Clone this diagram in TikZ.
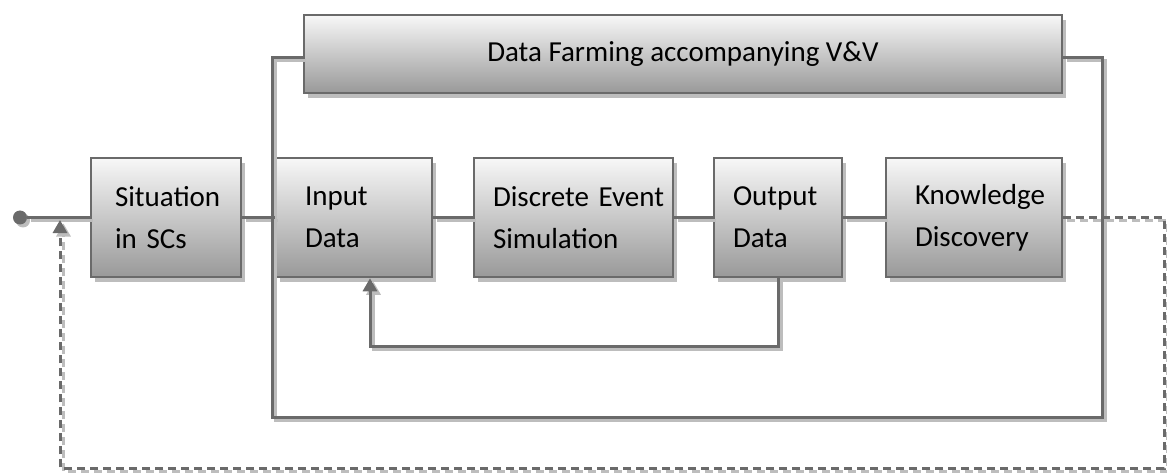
\documentclass[tikz,border=0pt]{standalone}
\usepackage{fontspec}
\setmainfont{Carlito}
\usetikzlibrary{arrows.meta,shadows}
\definecolor{linegray}{HTML}{6A6A6A}
\definecolor{shadegray}{HTML}{BDBDBD}
\begin{document}
\begin{tikzpicture}[x=1pt,y=-1pt]
        \tikzstyle{block}=[rectangle,draw=linegray,line width=2.5pt,top color=white!97!black,bottom color=black!40,drop shadow={shadow xshift=4pt,shadow yshift=-5pt,fill=shadegray,opacity=1},align=left,font=\fontsize{29}{42}\selectfont,minimum height=119pt,inner ysep=0pt]
        \tikzstyle{edge}=[line width=3pt]
        \tikzstyle{tip}=[-{Triangle[length=13pt,width=14pt]}]
        \useasboundingbox (0,0) rectangle (1167,473);
        \node [circle,fill=linegray,minimum size=14pt,inner sep=0pt,drop shadow={shadow xshift=3pt,shadow yshift=-3pt,fill=shadegray,opacity=1}] (start) at (20,217.5) {};
        \node [block,text width=102pt,inner xsep=24pt] (sit) at (166,217.5) {Situation\\in~SCs};
        \node [block,text width=98pt,inner xsep=29pt] (inp) at (354,217.5) {Input\\Data};
        \node [block,text width=161pt,inner xsep=19pt] (des) at (573.5,217.5) {Discrete~Event\\Simulation};
        \node [block,text width=90pt,inner xsep=19pt] (out) at (778,217.5) {Output\\Data};
        \node [block,text width=118pt,inner xsep=29pt] (kno) at (974,217.5) {Knowledge\\Discovery};
        \node [block,minimum width=758pt,minimum height=78pt,align=center] (top) at (683,54) {Data Farming accompanying V\&V};
        % corners of the frame and of the loops
        \coordinate (frameTL) at (272,57.5);
        \coordinate (frameBL) at (272,417);
        \coordinate (frameBR) at (1102,417);
        \coordinate (frameTR) at (1102,57.5);
        \coordinate (fbL) at (370,346);
        \coordinate (backR) at (1164,217.5);
        \coordinate (backB) at (1164,468);
        \coordinate (backL) at (60,468);
        \coordinate (back) at (60,220);
        % first the light offset copy, then the line itself
        \foreach \off/\col in {3.5pt/shadegray,0pt/linegray} {
                \begin{scope}[transform canvas={shift={(\off,-\off)}}]
                        \path[edge,draw=\col] (start) -- (sit);
                        \path[edge,draw=\col] (sit) -- (inp);
                        \path[edge,draw=\col] (inp) -- (des);
                        \path[edge,draw=\col] (des) -- (out);
                        \path[edge,draw=\col] (out) -- (kno);
                        \path[edge,draw=\col] (top.west |- frameTL) -- (frameTL) -- (frameBL) -- (frameBR) -- (frameTR) -- (top.east |- frameTR);
                        \path[edge,draw=\col,tip] (out.south) |- (fbL) -- (inp.south -| fbL);
                        \path[edge,draw=\col,tip,dash pattern=on 8pt off 5pt] (kno.east) -- (backR) -- (backB) -- (backL) -- (back);
                \end{scope}
        }
\end{tikzpicture}
\end{document}
